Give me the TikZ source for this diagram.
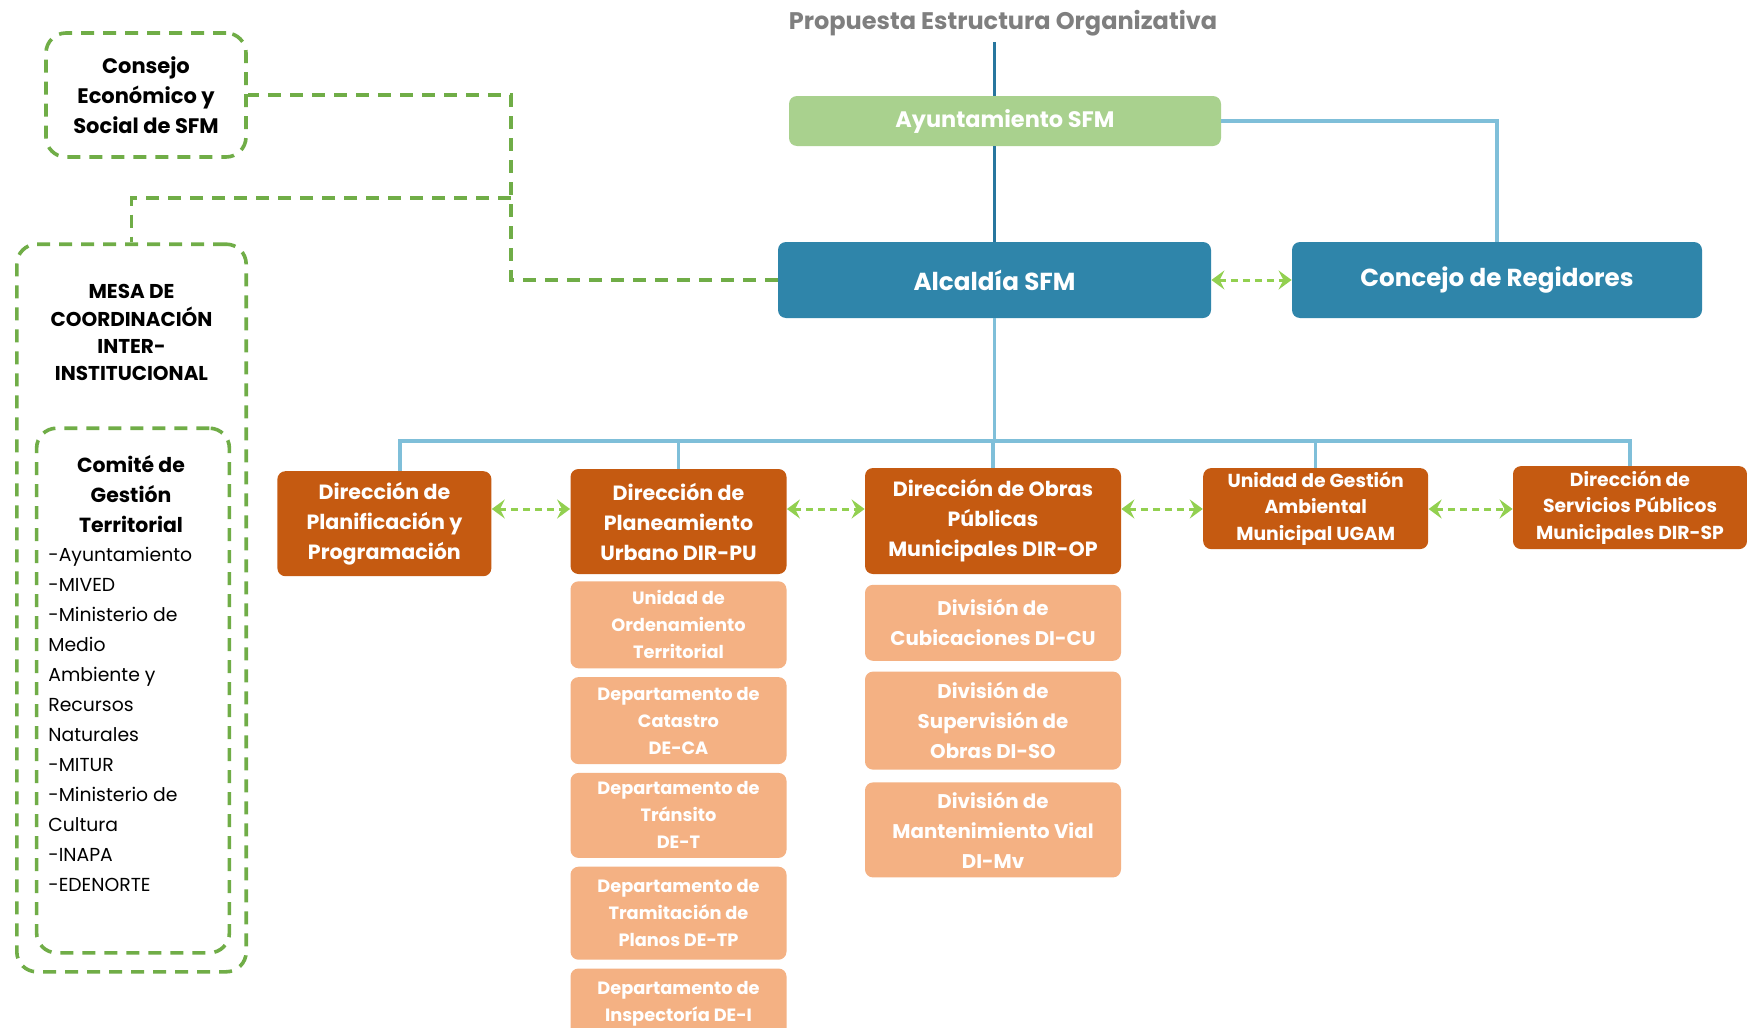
\documentclass[tikz,border=0pt]{standalone}
\usepackage{fontspec}
\setmainfont{Poppins}
\usepackage{tikz}
\usetikzlibrary{arrows.meta,positioning}

\definecolor{ayugreen}{RGB}{169,209,142}
\definecolor{alcblue}{RGB}{47,133,170}
\definecolor{darkline}{RGB}{40,118,158}
\definecolor{liteline}{RGB}{127,191,217}
\definecolor{dirorange}{RGB}{197,90,17}
\definecolor{suborange}{RGB}{244,177,131}
\definecolor{dashgreen}{RGB}{112,173,71}
\definecolor{arrowgreen}{RGB}{146,208,80}
\definecolor{titlegray}{RGB}{127,127,127}

\begin{document}
\begin{tikzpicture}[x=0.5pt,y=-0.5pt,>={Stealth[length=6.5pt,width=9.5pt,inset=2.4pt]},
  box/.style={rectangle,rounded corners=4pt,inner sep=1pt,align=center,text=white},
  top node/.style={box,fill=ayugreen,font=\bfseries\fontsize{11.2}{14}\selectfont},
  main node/.style={box,fill=alcblue,font=\bfseries\fontsize{12.3}{15}\selectfont},
  head node/.style={box,fill=dirorange,font=\bfseries\fontsize{10.3}{15}\selectfont},
  small head/.style={box,fill=dirorange,font=\bfseries\fontsize{9.4}{13.4}\selectfont},
  sub node/.style={box,fill=suborange,minimum width=108pt,font=\bfseries\fontsize{8.9}{13.5}\selectfont},
  div node/.style={box,fill=suborange,minimum width=128pt,font=\bfseries\fontsize{9.9}{15}\selectfont},
  dash box/.style={rectangle,rounded corners=10pt,draw=dashgreen,line width=1.8pt,dash pattern=on 6.5pt off 4.5pt,align=center},
  link/.style={draw=dashgreen,line width=1.8pt,dash pattern=on 6.5pt off 4.5pt},
  dark link/.style={draw=darkline,line width=1.5pt},
  lite link/.style={draw=liteline,line width=1.6pt},
  biarrow/.style={<->,draw=arrowgreen,line width=1.5pt,dash pattern=on 3.5pt off 2.5pt}]

  \clip (0,0) rectangle (1747,1028);
  \fill[white] (0,0) rectangle (1747,1028);

  \node[text=titlegray,font=\bfseries\fontsize{12}{14}\selectfont,inner sep=3pt] (title) at (1003,23) {Propuesta Estructura Organizativa};

  \node[top node,minimum width=216pt,minimum height=25pt] (ayu) at (1005,121) {Ayuntamiento SFM};
  \node[main node,minimum width=216.5pt,minimum height=38pt] (alc) at (994.5,280) {Alcaldía SFM};
  \node[main node,minimum width=205pt,minimum height=38pt] (con) at (1497,280) {Concejo de Regidores};

  \node[head node,minimum width=107pt,minimum height=52.5pt] (pp) at (384.4,523.7) {Dirección de\\Planificación y\\Programación};
  \node[head node,minimum width=108pt,minimum height=52.5pt] (pu) at (678.5,521.5) {Dirección de\\Planeamiento\\Urbano DIR-PU};
  \node[head node,minimum width=128pt,minimum height=53pt] (op) at (993,521) {Dirección de Obras\\Públicas\\Municipales DIR-OP};
  \node[small head,minimum width=112.5pt,minimum height=40.5pt] (ugam) at (1315.7,508.6) {Unidad de Gestión\\Ambiental\\Municipal UGAM};
  \node[small head,minimum width=117pt,minimum height=41.5pt] (sp) at (1630,507.6) {Dirección de\\Servicios Públicos\\Municipales DIR-SP};

  \node[sub node,minimum height=43.5pt,below=3.25pt of pu] (uot) {Unidad de\\Ordenamiento\\Territorial};
  \node[sub node,minimum height=43.5pt,below=4pt of uot] (ca) {Departamento de\\Catastro\\DE-CA};
  \node[sub node,minimum height=42.5pt,below=4pt of ca] (tr) {Departamento de\\Tránsito\\DE-T};
  \node[sub node,minimum height=46.5pt,below=4pt of tr] (tp) {Departamento de\\Tramitación de\\Planos DE-TP};
  \node[sub node,minimum height=35pt,below=4pt of tp] (ins) {Departamento de\\Inspectoría DE-I};

  \node[div node,minimum height=38pt,below=5pt of op] (cu) {División de\\Cubicaciones DI-CU};
  \node[div node,minimum height=49pt,below=5pt of cu] (so) {División de\\Supervisión de\\Obras DI-SO};
  \node[div node,minimum height=47.5pt,below=6pt of so] (mv) {División de\\Mantenimiento Vial\\DI-Mv};

  \node[dash box,minimum width=100pt,minimum height=62pt,font=\bfseries\fontsize{10.5}{15}\selectfont] (ces) at (146,95) {Consejo\\Económico y\\Social de SFM};
  \node[dash box,minimum width=114.7pt,minimum height=363.8pt] (mesa) at (131.5,608) {};
  \node[dash box,minimum width=96.4pt,minimum height=262.3pt] (cgt) at (133,690.5) {};
  \node[align=center,font=\bfseries\fontsize{10}{13.6}\selectfont,inner sep=0pt] (mesatxt) at (131.5,332.6) {MESA DE\\COORDINACIÓN\\INTER-\\INSTITUCIONAL};
  \node[align=center,font=\bfseries\fontsize{10.2}{15}\selectfont,inner sep=0pt] (cgttxt) at (131,493.6) {Comité de\\Gestión\\Territorial};
  \node[align=left,anchor=west,font=\fontsize{9.4}{15}\selectfont,inner sep=0pt] (cgtlist) at (48,719.8) {-Ayuntamiento\\-MIVED\\-Ministerio de\\Medio\\Ambiente y\\Recursos\\Naturales\\-MITUR\\-Ministerio de\\Cultura\\-INAPA\\-EDENORTE};

  \coordinate (j) at (511,198);
  \coordinate (bus) at (400,441);
  \coordinate (ar) at (0,509);

  \draw[dark link] (alc.north |- title.south) -- (alc.north |- ayu.north);
  \draw[dark link] (alc.north |- ayu.south) -- (alc.north);
  \draw[lite link] (ayu.east) -| (con.north);
  \draw[lite link] (alc.south) -- (alc.south |- bus);
  \draw[lite link] (pp.north -| bus) |- (sp.north |- bus) -- (sp.north);
  \foreach \n in {pu,op,ugam}
    \draw[lite link] (\n.north |- bus) -- (\n.north);

  \draw[link] (alc.west) -| (j) |- (ces.east);
  \draw[link] (j) -| (mesa.north);

  \draw[biarrow] (alc.east) -- (con.west);
  \draw[biarrow] (pp.east |- ar) -- (pu.west |- ar);
  \draw[biarrow] (pu.east |- ar) -- (op.west |- ar);
  \draw[biarrow] (op.east |- ar) -- (ugam.west |- ar);
  \draw[biarrow] (ugam.east |- ar) -- (sp.west |- ar);
\end{tikzpicture}
\end{document}
